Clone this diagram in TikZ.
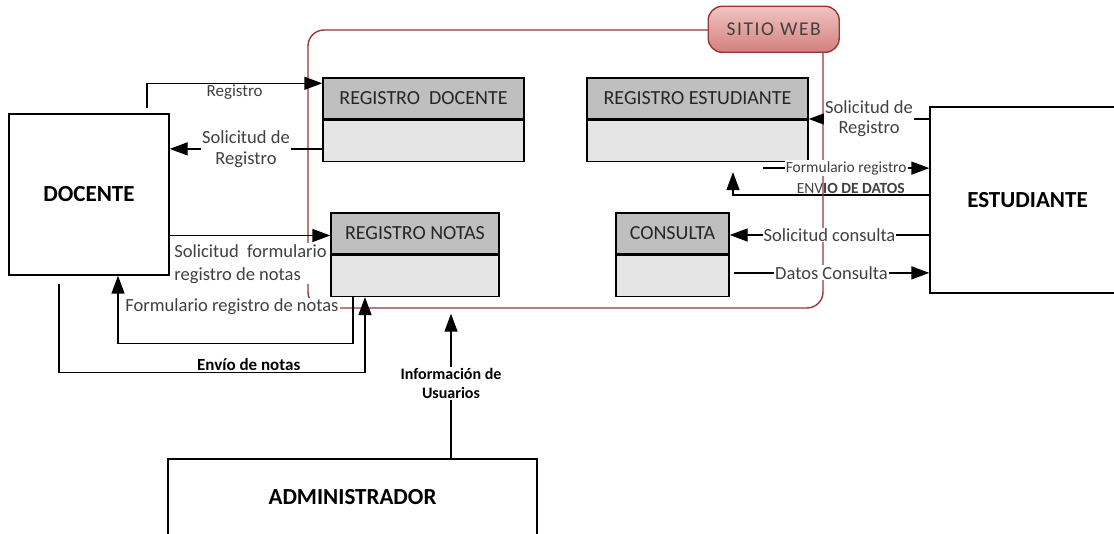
\documentclass[tikz,border=0pt]{standalone}
\usepackage{fontspec}
\setmainfont{Carlito}
\newfontfamily\spacedfont[LetterSpace=8]{Carlito}
\usetikzlibrary{positioning,arrows.meta}

\definecolor{webred}{RGB}{149,55,53}
\definecolor{headgray}{RGB}{191,191,191}
\definecolor{bodygray}{RGB}{229,229,229}
\definecolor{txtgray}{RGB}{64,64,64}
\definecolor{pinktop}{RGB}{240,196,195}
\definecolor{pinkbot}{RGB}{210,128,126}

\begin{document}
\begin{tikzpicture}[x=1pt,y=-1pt,line width=1.4pt,
        >={Triangle[length=18pt,width=13pt]},
        actor/.style={draw,font=\fontsize{23}{27}\selectfont\bfseries},
        head/.style={draw,fill=headgray,minimum height=41pt,inner sep=2pt,text=black!85,font=\fontsize{20}{24}\selectfont},
        body/.style={draw,fill=bodygray,minimum height=41pt,inner sep=0pt},
        lbl/.style={fill=white,inner sep=1pt,text=txtgray,font=\fontsize{18.5}{21}\selectfont},
        lblsmall/.style={inner sep=1pt,text=txtgray,font=\fontsize{15.5}{18}\selectfont},
        lblbold/.style={inner sep=1pt,text=black,font=\fontsize{16}{19}\selectfont\bfseries}]
        \useasboundingbox (0,0) rectangle (1114,534);

        % actores externos
        \node (docente) at (89,194.5)    [actor,minimum width=160pt,minimum height=161pt] {DOCENTE};
        \node (estud)   at (1027.5,200)  [actor,minimum width=195pt,minimum height=186pt] {ESTUDIANTE};
        \node (admin)   at (352.5,497)   [actor,minimum width=369pt,minimum height=76pt] {ADMINISTRADOR};

        % almacenes del sitio
        \node (rdoc) at (423.5,98.5) [head,minimum width=201pt] {REGISTRO~~DOCENTE};
        \node (rdocb) [body,minimum width=201pt,below=0pt of rdoc] {};
        \node (rest) at (697.5,98.5) [head,minimum width=221pt] {REGISTRO ESTUDIANTE};
        \node (restb) [body,minimum width=221pt,below=0pt of rest] {};
        \node (rnot) at (415,233.5)  [head,minimum width=168pt] {REGISTRO NOTAS};
        \node (rnotb) [body,minimum width=168pt,below=0pt of rnot] {};
        \node (cons) at (672.5,233.5) [head,minimum width=113pt] {CONSULTA};
        \node (consb) [body,minimum width=113pt,below=0pt of cons] {};

        \draw[->] ([yshift=5pt]estud.west) -| ([xshift=35.5pt,yshift=-10pt]restb.south)
              node[pos=0.2,above,lblsmall]{ENV\textbf{IO DE DATOS}};

        % limite del sitio web
        \node (web) at (565.5,169) [draw=webred,rounded corners=16pt,minimum width=515pt,minimum height=278pt] {};
        \node (sitio) at ([xshift=-50pt]web.north east) [draw=webred,rounded corners=14pt,top color=pinktop,bottom color=pinkbot,
              minimum width=131pt,minimum height=46pt,text=txtgray,font=\spacedfont\fontsize{19.5}{22}\selectfont] {SITIO WEB};

        % flujos del docente
        \draw[->] ([xshift=58pt,yshift=5pt]docente.north) |- ([yshift=-6pt]rdoc.north west)
              node[pos=0.75,below,lblsmall,font=\fontsize{17}{20}\selectfont]{Registro};
        \coordinate (srd) at ([yshift=-8pt]rdocb.west);
        \draw[->] (srd) -- (srd -| docente.east) node[midway,lbl,align=center]{Solicitud de\\Registro};
        \coordinate (sfn) at ([yshift=-41pt]docente.east);
        \draw[->] (sfn) -- (sfn -| rnot.west);
        \node (sfl) at ([xshift=3pt,yshift=-7pt]sfn) [lbl,anchor=north west,align=left,font=\fontsize{18.5}{23}\selectfont] {Solicitud\ \ formulario\\registro de notas};
        \draw[->] ([xshift=-62pt]rnotb.south) -- ++(0,46.5) -| ([xshift=29pt]docente.south);
        \node (frl) at (232,307) [lbl] {Formulario registro de notas};
        \draw[->] ([xshift=-30pt,yshift=-8pt]docente.south) -- ++(0,89) -| ([xshift=-50pt]rnotb.south)
              node[pos=0.31,above,lblbold,font=\fontsize{17}{20}\selectfont\bfseries]{Envío de notas};

        % flujo del administrador
        \coordinate (iu) at ([xshift=98.5pt]admin.north);
        \draw[->,shorten >=5pt] (iu) -- (iu |- web.south) node[midway,lblbold,fill=white,align=center]{Información de\\Usuarios};

        % flujos del estudiante
        \coordinate (srr) at ([yshift=81pt]estud.west);
        \draw[->] (srr) -- (srr -| rest.east) node[midway,lbl,align=center,font=\fontsize{18.5}{20}\selectfont]{Solicitud de\\Registro};
        \coordinate (fr) at ([xshift=65.5pt,yshift=-6pt]restb.south);
        \draw[->] (fr) -- (fr -| estud.west) node[midway,lblsmall,fill=white]{Formulario registro};
        \coordinate (sc) at ([yshift=-35pt]estud.west);
        \draw[->] (sc) -- (sc -| cons.east) node[midway,lbl]{Solicitud consulta};
        \coordinate (dc) at ([xshift=4pt,yshift=3pt]consb.east);
        \draw[->] (dc) -- (dc -| estud.west) node[midway,lbl]{Datos Consulta};
\end{tikzpicture}
\end{document}
